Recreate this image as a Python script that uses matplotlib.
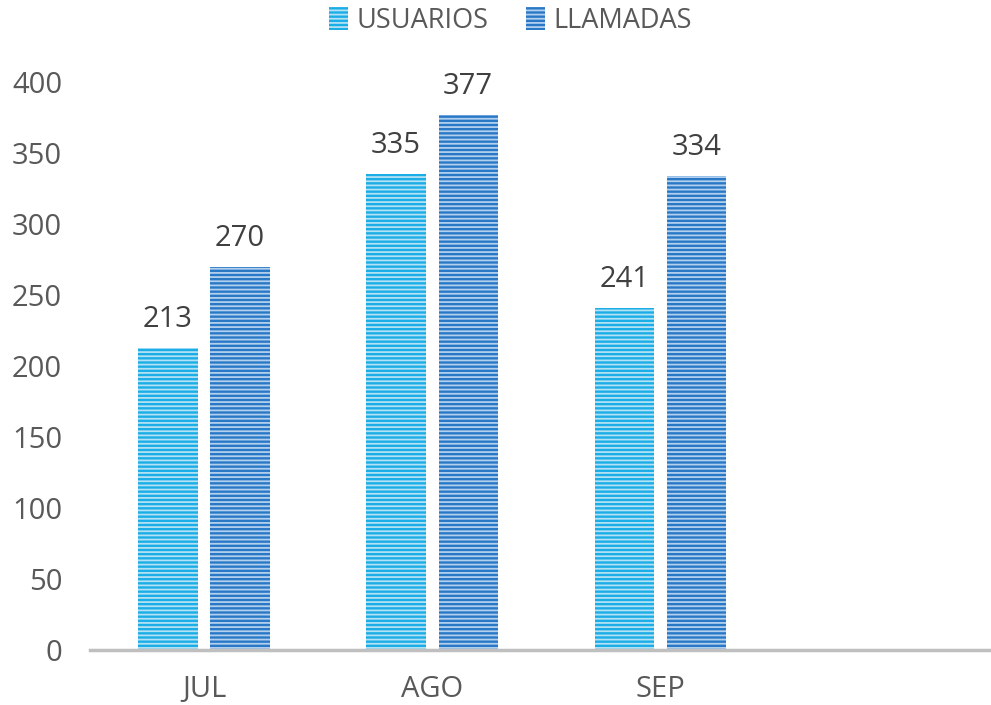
import matplotlib.pyplot as plt
import numpy as np

# data
months = ["JUL", "AGO", "SEP", ""]
usuarios = [213, 335, 241]
llamadas = [270, 377, 334]

plt.rcParams['font.family'] = ['Open Sans', 'DejaVu Sans']
plt.rcParams['hatch.linewidth'] = 1.3

fig = plt.figure(figsize=(9.91, 7.05), dpi=100)
ax = fig.add_axes([90 / 991, 55 / 705, 1 - 90 / 991, (650 - 82) / 705])

x = np.arange(len(usuarios))
w = 0.26
off = 0.158

b1 = ax.bar(x - off, usuarios, w, color='#1AADE6', edgecolor='#B4E1F4',
            hatch='----', linewidth=0, label='USUARIOS')
b2 = ax.bar(x + off, llamadas, w, color='#2878C6', edgecolor='#B2D0EE',
            hatch='----', linewidth=0, label='LLAMADAS')

ax.bar_label(b1, padding=10, fontsize=21, color='#404040')
ax.bar_label(b2, padding=10, fontsize=21, color='#404040')

ax.set_xlim(-0.5, 3.45)
ax.set_ylim(0, 400)
ax.set_yticks(range(0, 401, 50))
ax.set_xticks(range(len(months)))
ax.set_xticklabels(months)
ax.tick_params(axis='both', length=0, labelsize=21, labelcolor='#595959')
ax.tick_params(axis='x', pad=18)
ax.tick_params(axis='y', pad=20)

for s in ['top', 'right', 'left']:
    ax.spines[s].set_visible(False)
ax.spines['bottom'].set_color('#BFBFBF')
ax.spines['bottom'].set_linewidth(2.5)

fig.legend(handles=[b1, b2], loc='upper center', bbox_to_anchor=(0.515, 1.025),
           ncol=2, frameon=False, fontsize=19.5, labelcolor='#595959',
           handlelength=0.7, handleheight=0.9, handletextpad=0.3,
           columnspacing=1.4)

fig.savefig('out.png', dpi=100)
